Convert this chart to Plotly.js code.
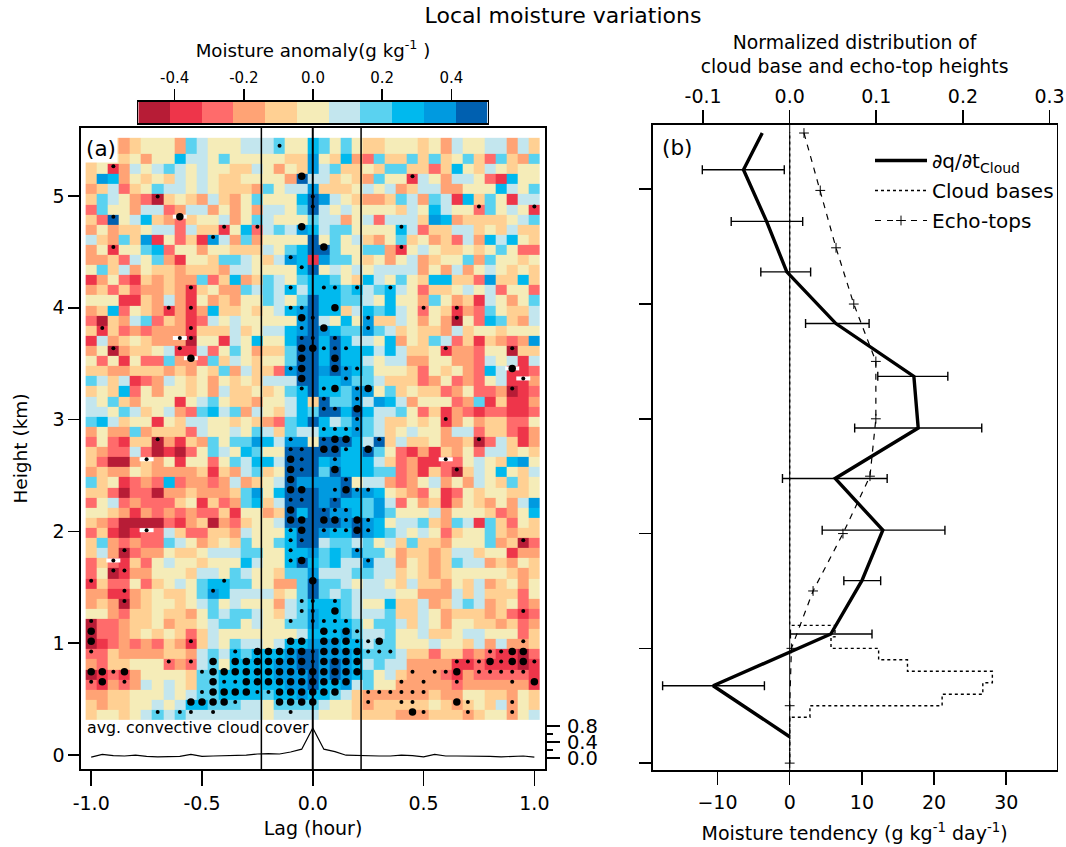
<!DOCTYPE html>
<html><head><meta charset="utf-8">
<script src="https://cdn.plot.ly/plotly-3.0.1.min.js"></script>
<style>html,body{margin:0;padding:0;background:#fff}#c{width:1066px;height:847px}</style></head>
<body><div id="c"></div>
<script>
const FONT = '"DejaVu Sans", sans-serif';
// Heat-map levels, A (dark red, dry) to K (dark blue, moist)
const levelCodes = 'ABCDEFGHIJK';
const levelValues = [-0.459,-0.367,-0.275,-0.184,-0.092,0,0.092,0.184,0.275,0.367,0.459];
const levelColors = ['#B71C36','#EE354A','#FF6B6B','#FFA375','#FFD093','#F5ECB8','#C3E6EE','#5AD2F0','#00B9EE','#009AE0','#0060B0'];
const lags = [-1,-0.95,-0.9,-0.85,-0.8,-0.75,-0.7,-0.65,-0.6,-0.55,-0.5,-0.45,-0.4,-0.35,-0.3,-0.25,-0.2,-0.15,-0.1,-0.05,0,0.05,0.1,0.15,0.2,0.25,0.3,0.35,0.4,0.45,0.5,0.55,0.6,0.65,0.7,0.75,0.8,0.85,0.9,0.95,1];
const heightEdges = [5.52,5.378,5.287,5.197,5.106,5.016,4.925,4.835,4.745,4.654,4.564,4.473,4.383,4.292,4.202,4.112,4.021,3.931,3.84,3.75,3.659,3.569,3.478,3.388,3.298,3.207,3.117,3.026,2.936,2.845,2.755,2.665,2.574,2.484,2.393,2.303,2.212,2.122,2.031,1.941,1.851,1.76,1.67,1.579,1.489,1.398,1.308,1.218,1.127,1.037,0.946,0.856,0.765,0.675,0.584,0.494,0.404,0.313];
const anomalyRows = [
'EFEDE FFFDH GFFFG GGHFF I HFHFE EFFFE FDGFF GGDGE',
'EFFEF DFFIG GFHFF FFFEE J FEIDC HEEHE HEFHE CHEDH',
'EFBDG FGHGF GFFEE GFDFE J GHEEF EHHEE CEIFE GFEFF',
'EJIDF EFEGF GFEEF FFFDK G GEFED HFFBG FDGGF CBIFF',
'DEGCE FHGGF GFEEE DHFGG J EEEFG FGDEG GDDFF FIGFH',
'EHGFD CAEFE DGEDF HFFFI K JGFED DEHGD HGBIE HFBGG',
'CHFFD GGCDG GDFDF DGGFH K GFGFF FFEGF IGFFC HFGFB',
'ECKFG IEDCE FFGDF HGFFF H GGDFG CGGGE JIDEE EEFGH',
'DFDEE FGGCG EEBFI CGHGJ I GHHFF FFIGC EEGGE FEGEE',
'GEDHE JBFCE BJGDH DFFFF K FHFGE DFHEF DECGD IGIFE',
'DFBFF HICFF DFFEE EGFHI K KHFFH HDBFG FEEFE FHFCC',
'DDECG FHDBF FEHHG FEGJI B JHHFE FDFGD EFFHD HFFEF',
'FHEGD FEEDE EEDGG FFFFI K FGFGF GGGGD FDGDF GFEFE',
'BDFCB EDEDD HCEID EHGFH I IHFEI GFHFE IIEEC JEEIE',
'DECEC DDEDB EFDDH GHGIG I IIHIG HIGFC EEFGF GCFFC',
'FFFBB EDGDB FDEDF FHGFH K IIHHG FIFFD HFDEB GFDFH',
'DEICF EDBDB DIEEF EFGIJ K IIEGI HIGFC FEBDC HFEEG',
'CAEDG HCEDB CGFGF FFFFJ K GFIFJ EEGFD FDAFC IHEDG',
'EBECD CDDDB EEEGE FGGIJ K JIHHJ HGEFE EDGEF FEFFF',
'BGDEF EDDDA FFBGF IFFIK K IKIGG FIDFE HGCEB EDCDJ',
'DFADE EFGBB GCFHF DEEHK K IKIII GIGEE FBDDC FFAEE',
'FCFBF CCHDD CHEGF EFFHK K IKIIG FGGDD FFDDC GFGBG',
'EEDDE EEDED FEHDG EECJK K JKJIH FFFEC FEFDC IGBBC',
'HGEGB CDGFE FDFEF EGGGK K IIJHH GEEEC DFCDC FGBBD',
'EFEIC FDFFE FDGEE FEFHI K IIHJJ FHEFE ECDFC CDABC',
'GFHED FFFBF GHFEE DFFGI E KHHJG JIGDF FFCDH BEBBD',
'GGFHG EFGDC HIGHD GFEGI H KKIKI GGHFC EBDCB CCBBC',
'HIGEF FBFEG GFFEF EDCHI K IGHJH GEEFE FBDFD EECCF',
'DFDDH DEEEC GFFGF HGEHG G IIIJH GEFGF FDGGC EECBD',
'CFCBE EADBE DHFHH JIGJJ F KKKIG KEGEE FDDEA CGEBD',
'EDCCG CABAC FHGFI HFFKK K KKIIK HFCBD BEDFC GGEFE',
'ECAAD EDFBF FCFHG IIGKK K IJIII GECDB BCCFG FEIJF',
'DEDDF EDDDD EBEDG HEFKK K HKIII HHCDB ECAEG FIFEG',
'HEFBC DCICD DCDGD EFGKJ J JJKFG GDCDF GDFDG FEHEF',
'EECAC CADDE DDDEH JFIKK K JJKJJ IFEDC FBCFE FFEEF',
'CFGCD CCCEF BECDH IEGKK K JKIIH JGCFD EBDFE DFDGJ',
'FFEDB DCDCD CCEBF FDEKI K KJJIH JHFFF GDFFF ECDFI',
'EDCAA AACBD EADCE FFGKK K KKJKJ IFGGH EDHGB HECFE',
'CEBAB CCGEC CEEDG FFFIK K JIIKJ IHGFG FCEFF HEDEE',
'EHDCD CCHGF DEFEH FFHIK K GHHGH FGEHE EDFFF HDEAC',
'EGDAC DDFEE FGGGH HFFII J HIHJH HFDEE DEGGE FFBDD',
'CECBE CFGFF EFFFI GFFIK I HIGGJ GGDFE DEHGG DEDFE',
'CFABD DFFFE GGFHG FFEHH J GGGHH GGEFE DEFFF FFEDE',
'BECCF CEFGF HIIHH FFDDH K HHGFG GFEGE EDFEG DEFDF',
'DDBBD EFEEF HJIGG GGEFH K HGHGG GGFFD DDGEG EEECF',
'DEDAD EFFEF GHFGF FFDGH I IIHGF FIEEG DEGHG DEFCD',
'FFDCE EFEED FHGHH GFEGH J IIHGG GHEEG FDEEE DECBC',
'ACCDE EFDEE FGHHF GFFHH J IIIHF HHGEG FDFFE EDECD',
'ACCDE FEFEC EGFFF FFFFG I IIJHG GHFFG EEFGG FFFCE',
'ABCDC DCEDB EGFHG GFGII J JJIIG HHFFF GFFEG DGDDE',
'CCEDD DDEED GHGIH IIIJK K JJJIH HHGEE CEECD CBBAC',
'DCEEF FFCDC GHFII IIJJK K JKJIG HGGDD DDBBC BBBAB',
'ABCBD FFFFE HHIII IIJJJ K JKJIH FGEDD DCBDC CCCCB',
'CBDCD GFGFE HHIII IIIJJ K IIJGH FFDDD DDCDD DDDDB',
'DDEEF FFGFG HHIII IHIIJ I IHGED DDDDD EDDFF EEDFE',
'EDEEF FGFGI IHHHG GFHHH H GFFED EEEEE FEDEF EGDFE',
'EFFEF GHGHG GGGGG GFGGG G FFFEE EEDDD EEEDE FFDFG'
];
// Significance dots: for each row, the columns with a small / a large dot
const smallDots = [[17],[],[2],[29],[],[6,20],[20,35,40],[2],[12,15,28],[11],[2,28],[18],[19],[],[9,18,21,22,24,27],[],[7,9,18,19,30,33],[20,25,33],[1,9,19,25],[8,9,19,20,22],[2,8,21,22,23,32,38],[],[18,23,24],[23,39],[19,21,24,38],[21,24],[21,22],[24,32],[21,22,23,24],[6,18,21,26,35],[18,19,23],[5,19,22,32],[19,33],[23],[22,24,25],[18,19,22],[21,22,23],[23,25],[5,18,21,22,23,25],[18,19,39],[3,18,24],[2,18,25],[2,3],[0,12],[3,11],[3,19,20,22],[19,20,39],[0,18,20,21,22,23],[22,24],[9,24,25,39],[0,13,20,25,26,27,36,37],[7,9,20,33,34,35,37,40],[2,10,29,31,32,35,36,37,38,39],[0,3,12,13,28,30,33,38],[10,15,16,25,26,27,28,29,30],[13,25,28,29,34,38],[6,8,9,11,18,30,34,38]];
const largeDots = [[],[],[],[19],[],[],[],[8],[19],[],[21],[],[],[],[],[],[22],[19],[21],[],[19,20],[9,19,22],[19,22,38],[19],[22,25],[],[24],[],[],[22,23],[21,22,25],[18],[18,22],[18],[18,19,23],[],[18],[18,19,21,22,24],[19,24],[],[],[19],[],[20],[],[],[22],[],[0,21,23],[0,18,19,21,22,23,26],[15,16,17,18,19,21,22,23,24,38,39],[11,13,14,15,16,17,18,19,21,22,23,24,36,38,39],[0,1,3,11,12,13,14,15,16,17,18,19,20,21,22,23,24,33],[1,11,14,15,16,17,18,19,20,21,22,23,40],[11,12,13,14,17,18,19,20,21,22],[9,10,11,12,17,18,19,20,33],[29]];
const whiteRows = [7,19,21,22,23,31,38,41,31];
const whiteCols = [8,8,9,38,39,5,5,2,32];
const cloudCover = [0.02,0.09,0.06,0.05,0.07,0.04,0.03,0.03,0.04,0.09,0.04,0.05,0.06,0.06,0.07,0.1,0.11,0.1,0.15,0.22,0.75,0.22,0.16,0.07,0.06,0.06,0.05,0.05,0.07,0.06,0.03,0.09,0.05,0.05,0.05,0.04,0.04,0.03,0.04,0.05,0.02];
const boxLags = [-0.232,0.218];

// Panel (b)
const tendHeights = [5.49,5.17,4.72,4.28,3.83,3.37,2.92,2.48,2.03,1.59,1.125,0.674,0.23];
const tendValues = [-3.8,-6.4,-3.2,-0.4,6.4,17.2,17.8,6.3,12.9,10,5.7,-10.6,0];
const errHeights = [5.17,4.72,4.28,3.83,3.37,2.92,2.48,2.03,1.59,1.125,0.674];
const errCenters = [-6.4,-3.2,-0.4,6.4,17.2,17.8,6.3,12.9,10,5.7,-10.6];
const errLow = [-12.1,-8.1,-4,2.2,12.2,9,-1,4.5,7.5,0.1,-17.6];
const errHigh = [-0.75,1.8,2.9,11,21.9,26.6,13.5,21.5,12.6,11.4,-3.5];
const baseHeights = [0,0.4,0.5,0.6,0.7,0.8,0.9,1.0,1.1,1.2,1.2,5.5];
const baseValues = [0,0,0.0234,0.176,0.223,0.234,0.136,0.1027,0.0477,0.0523,0,0];
const echoHeights = [5.49,4.99,4.49,4.0,3.5,3.0,2.5,2.0,1.5,1.0,0.5,0];
const echoValues = [0.0165,0.0353,0.0535,0.074,0.0995,0.0995,0.0927,0.0615,0.027,0.002,0,0];

const W = 1066, H = 847;
const dx = (a, b) => [a / W, b / W];
const dy = (top, bot) => [1 - bot / H, 1 - top / H];
const zRows = anomalyRows.map(r => r.replace(/ /g,'').split('').map(c => levelValues[levelCodes.indexOf(c)]));
const dotH = r => r === 0 ? 5.45 : heightEdges[r] - 0.02;
function dotTrace(src, size) {
  const x = [], y = [];
  src.forEach((cols, r) => cols.forEach(c => { x.push(lags[c]); y.push(dotH(r)); }));
  return {type:'scatter', mode:'markers', x, y, xaxis:'x', yaxis:'y', showlegend:false, hoverinfo:'skip',
    marker:{color:'#000', size, line:{width:0}}};
}
const scale = [];
levelColors.forEach((c, i) => { scale.push([i / 11, c]); scale.push([(i + 1) / 11, c]); });
const vline = (x, y0, y1, w) => ({type:'scatter', mode:'lines', x:[x,x], y:[y0,y1], xaxis:'x', yaxis:'y', cliponaxis:false, showlegend:false, hoverinfo:'skip', line:{color:'#000', width:w}});

const data = [
  {type:'heatmap', x:[...lags.map(l => l - 0.025), 1.025], y:heightEdges, z:zRows, xaxis:'x', yaxis:'y', zmin:-0.505, zmax:0.505, colorscale:scale, showscale:false, zsmooth:false, hoverinfo:'skip'},
  {type:'scatter', mode:'markers', x:whiteCols.map(c => lags[c]), y:whiteRows.map(dotH), xaxis:'x', yaxis:'y', showlegend:false, hoverinfo:'skip',
    marker:{symbol:'line-ew', size:10, color:'#fff', line:{color:'#fff', width:4}}},
  dotTrace(smallDots, 4),
  dotTrace(largeDots, 7.5),
  vline(boxLags[0], -0.125, 5.608, 1.5),
  vline(boxLags[1], -0.125, 5.608, 1.5),
  vline(0, -0.26, 5.608, 2),
  {type:'scatter', mode:'lines', x:lags, y:cloudCover, xaxis:'x', yaxis:'y2', showlegend:false, hoverinfo:'skip', line:{color:'#000', width:1.2}},
  // colour bar
  {type:'heatmap', x:levelValues, y:[0], z:[levelValues], xaxis:'x4', yaxis:'y4', zmin:-0.505, zmax:0.505, colorscale:scale, showscale:false, zsmooth:false, hoverinfo:'skip'},
  // panel b
  {type:'scatter', mode:'lines', x:[0,0], y:[-0.06,5.56], xaxis:'x2', yaxis:'y3', showlegend:false, hoverinfo:'skip', line:{color:'#000', width:1}},
  {type:'scatter', mode:'none', x:errCenters, y:errHeights, xaxis:'x2', yaxis:'y3', showlegend:false, hoverinfo:'skip',
    error_x:{type:'data', symmetric:false, array:errHigh.map((v,i) => v - errCenters[i]), arrayminus:errCenters.map((v,i) => v - errLow[i]), color:'#000', thickness:1.4, width:4.5}},
  {type:'scatter', mode:'lines', name:'∂q/∂t<sub>Cloud</sub>', legendgroup:'a', x:tendValues, y:tendHeights, xaxis:'x2', yaxis:'y3', hoverinfo:'skip', line:{color:'#000', width:3.4}},
  {type:'scatter', mode:'lines', name:'Cloud bases', legendgroup:'b', x:baseValues, y:baseHeights, xaxis:'x3', yaxis:'y3', hoverinfo:'skip', line:{color:'#000', width:1.4, dash:'3px,3px', shape:'hv'}},
  {type:'scatter', mode:'lines+markers', name:'Echo-tops', legendgroup:'c', x:echoValues, y:echoHeights, xaxis:'x3', yaxis:'y3', hoverinfo:'skip', line:{color:'#000', width:1.2, dash:'6px,6px'}, marker:{symbol:'cross-thin', size:7, color:'#000', line:{color:'#000', width:1}}}
];
const txt = {family:FONT, color:'#000'};
const base = {showgrid:false, zeroline:false, showline:true, linecolor:'#000', linewidth:1.6, ticks:'outside', tickcolor:'#000', tickwidth:1.6, tickfont:{...txt, size:19}};
const layout = {
  width:W, height:H, margin:{l:0,r:0,t:0,b:0,autoexpand:false}, paper_bgcolor:'#fff', plot_bgcolor:'rgba(0,0,0,0)', font:txt,
  title:{text:'Local moisture variations', font:{...txt,size:22}, x:563/W, xanchor:'center', y:1-15/H, yanchor:'middle'},
  xaxis:{...base, domain:dx(81,545), anchor:'y', range:[-1.046,1.048], tickvals:[-1,-0.5,0,0.5,1], ticktext:['-1.0','-0.5','0.0','0.5','1.0'], ticklen:15, ticklabelstandoff:2, mirror:true,
    title:{text:'Lag (hour)', font:{...txt,size:19}, standoff:8}},
  yaxis:{...base, domain:dy(128,769), anchor:'x', range:[-0.125,5.608], tickvals:[0,1,2,3,4,5], ticklen:11, mirror:true,
    title:{text:'Height (km)', font:{...txt,size:18.5}, standoff:20}},
  yaxis2:{...base, showline:false, domain:dy(128,769), anchor:'x', overlaying:'y', side:'right', range:[-0.275,15.75], tickvals:[0,0.4,0.8], ticktext:['0.0','0.4','0.8'], ticklen:14, ticklabelstandoff:3, tickfont:{...txt,size:19.5},
    minor:{tickvals:[0.2,0.6], ticks:'outside', ticklen:7, tickwidth:1.6, tickcolor:'#000', showgrid:false}},
  xaxis2:{...base, domain:dx(652.5,1056.7), anchor:'y3', range:[-19,36.98], tickvals:[-10,0,10,20,30], ticklen:13, ticklabelstandoff:2,
    title:{text:'Moisture tendency (g kg<sup>-1</sup> day<sup>-1</sup>)', font:{...txt,size:19}, standoff:14}},
  xaxis3:{...base, domain:dx(652.5,1056.7), anchor:'y3', overlaying:'x2', side:'top', range:[-0.1584,0.3083], tickvals:[-0.1,0,0.1,0.2,0.3], ticktext:['-0.1','0.0','0.1','0.2','0.3'], ticklen:13,
    title:{text:'Normalized distribution of<br>cloud base and echo-top heights', font:{...txt,size:18.8}, standoff:6}},
  yaxis3:{...base, domain:dy(125,770), anchor:'x2', range:[-0.06,5.56], tickvals:[0,1,2,3,4,5], showticklabels:false, ticklen:12, mirror:true},
  xaxis4:{...base, domain:dx(138.3,487.7), anchor:'y4', side:'top', range:[-0.505,0.505], tickvals:[-0.4,-0.2,0,0.2,0.4], ticktext:['-0.4','-0.2','0.0','0.2','0.4'], ticklen:11, mirror:true, tickfont:{...txt,size:15},
    title:{text:'Moisture anomaly(g kg<sup>-1</sup> )', font:{...txt,size:18.2}, standoff:7}},
  yaxis4:{showgrid:false, zeroline:false, showline:true, linecolor:'#000', linewidth:1.6, mirror:true, ticks:'', showticklabels:false, domain:dy(102,123), anchor:'x4', range:[-0.5,0.5]},
  legend:{x:870/W, y:1-141/H, xanchor:'left', yanchor:'top', bgcolor:'rgba(0,0,0,0)', itemwidth:52, font:{...txt,size:20}, tracegroupgap:1},
  annotations:[
    {xref:'paper', yref:'paper', x:84/W, y:1-134/H, xanchor:'left', yanchor:'top', text:'(a)', showarrow:false, font:{...txt,size:21.5}, bgcolor:'#fff', borderpad:1, align:'left'},
    {xref:'paper', yref:'paper', x:660/W, y:1-148/H, xanchor:'left', yanchor:'middle', text:'(b)', showarrow:false, font:{...txt,size:21.5}},
    {xref:'paper', yref:'paper', x:85/W, y:1-727/H, xanchor:'left', yanchor:'middle', text:'avg. convective cloud cover', showarrow:false, font:{...txt,size:15.8}}
  ]
};
Plotly.newPlot('c', data, layout, {staticPlot:true, displayModeBar:false});
</script></body></html>
